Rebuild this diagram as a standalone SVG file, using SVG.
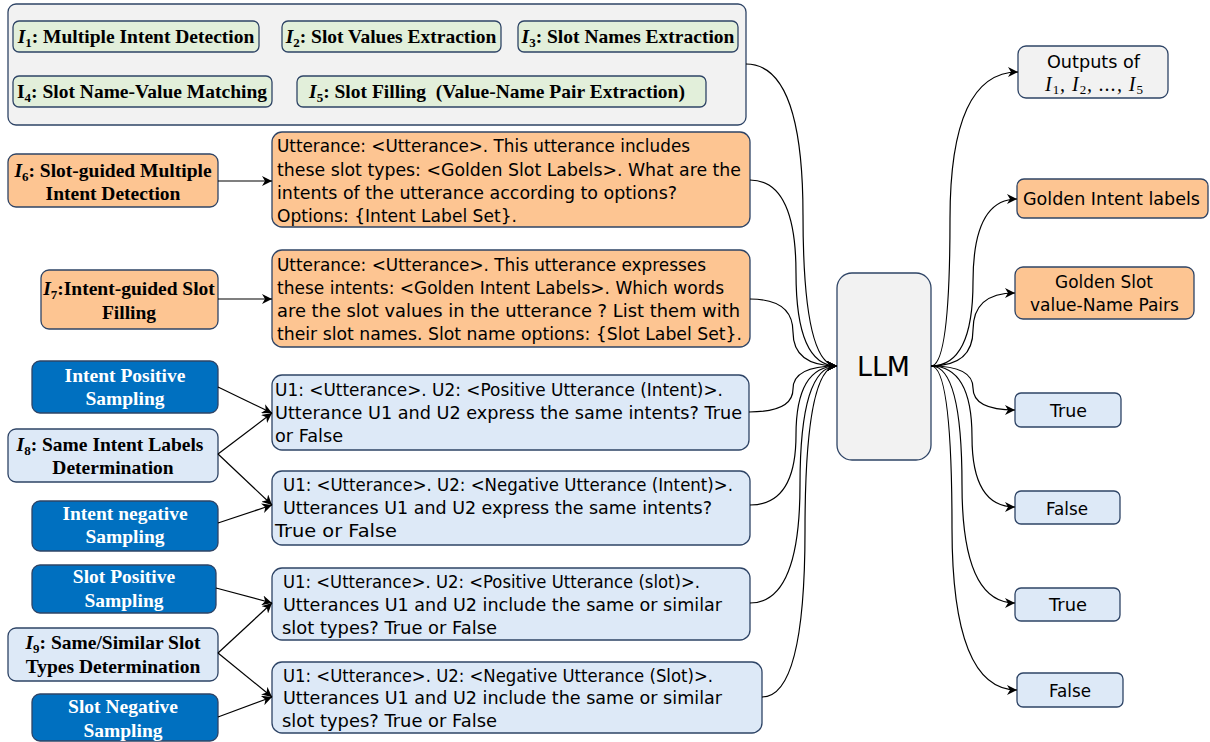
<svg xmlns="http://www.w3.org/2000/svg" width="1210" height="742" viewBox="0 0 1210 742">
<style>
.box{stroke:#2e4466;stroke-width:1.3}
.gray{fill:#f2f2f2}
.green{fill:#e2efda}
.orange{fill:#fdc592}
.lblue{fill:#dde9f7}
.dblue{fill:#0070c0}
.serif{font-family:"Liberation Serif","Times New Roman",serif;font-weight:bold;font-size:19.5px;fill:#000}
.wt{fill:#fff}
.sub{font-size:13px}
.it{font-style:italic}
.pr{font-family:"DejaVu Sans",Verdana,sans-serif;font-size:17px;fill:#000}
.llm{font-family:"DejaVu Sans",Verdana,sans-serif;font-size:27px;fill:#000}
.math{font-family:"Liberation Serif","Times New Roman",serif;font-style:italic;font-size:20px;fill:#000}
.edge{fill:none;stroke:#000;stroke-width:1.2}
</style>
<defs>
<marker id="arr" viewBox="0 0 10 10" refX="10" refY="5" markerWidth="10" markerHeight="10" markerUnits="userSpaceOnUse" orient="auto">
<path d="M0,0 L10,5 L0,10 L3,5 Z" fill="#000"/>
</marker>
</defs>

<g id="task-group">
<rect class="box gray" x="8" y="4" width="738" height="121" rx="8"/>
</g>
<g id="i1">
<rect class="box green" x="13" y="21" width="246" height="31" rx="6"/>
<text class="serif" x="136" y="42.5" text-anchor="middle"><tspan class="it">I</tspan><tspan class="sub" dy="4">1</tspan><tspan dy="-4">: Multiple Intent Detection</tspan></text>
</g>
<g id="i2">
<rect class="box green" x="282" y="21" width="219" height="31" rx="6"/>
<text class="serif" x="391" y="42.5" text-anchor="middle"><tspan class="it">I</tspan><tspan class="sub" dy="4">2</tspan><tspan dy="-4">: Slot Values Extraction</tspan></text>
</g>
<g id="i3">
<rect class="box green" x="518" y="21" width="220" height="31" rx="6"/>
<text class="serif" x="628" y="42.5" text-anchor="middle"><tspan class="it">I</tspan><tspan class="sub" dy="4">3</tspan><tspan dy="-4">: Slot Names Extraction</tspan></text>
</g>
<g id="i4">
<rect class="box green" x="13" y="76" width="259" height="31" rx="6"/>
<text class="serif" x="142" y="97.5" text-anchor="middle"><tspan>I</tspan><tspan class="sub" dy="4">4</tspan><tspan dy="-4">: Slot Name-Value Matching</tspan></text>
</g>
<g id="i5">
<rect class="box green" x="297" y="76" width="409" height="31" rx="6"/>
<text class="serif" x="497" y="97.5" text-anchor="middle" xml:space="preserve"><tspan class="it">I</tspan><tspan class="sub" dy="4">5</tspan><tspan dy="-4">: Slot Filling  (Value-Name Pair Extraction)</tspan></text>
</g>

<g id="i6-label">
<rect class="box orange" x="8" y="154" width="210" height="53" rx="8"/>
<text class="serif" x="113" y="176.5" text-anchor="middle"><tspan class="it">I</tspan><tspan class="sub" dy="4">6</tspan><tspan dy="-4">: Slot-guided Multiple</tspan></text>
<text class="serif" x="113" y="199.5" text-anchor="middle">Intent Detection</text>
</g>
<g id="i6-prompt">
<rect class="box orange" x="272" y="132" width="478" height="95" rx="10"/>
<text class="pr" x="277" y="152" textLength="413" lengthAdjust="spacingAndGlyphs">Utterance: &lt;Utterance&gt;. This utterance includes</text>
<text class="pr" x="277" y="175.5" textLength="464" lengthAdjust="spacingAndGlyphs">these slot types: &lt;Golden Slot Labels&gt;. What are the</text>
<text class="pr" x="277" y="199" textLength="400" lengthAdjust="spacingAndGlyphs">intents of the utterance according to options?</text>
<text class="pr" x="277" y="222" textLength="240" lengthAdjust="spacingAndGlyphs">Options: {Intent Label Set}.</text>
</g>

<g id="i7-label">
<rect class="box orange" x="41" y="270" width="177" height="59" rx="8"/>
<text class="serif" x="129" y="295" text-anchor="middle"><tspan class="it">I</tspan><tspan class="sub" dy="4">7</tspan><tspan dy="-4">:Intent-guided Slot</tspan></text>
<text class="serif" x="129" y="319" text-anchor="middle">Filling</text>
</g>
<g id="i7-prompt">
<rect class="box orange" x="272" y="250" width="478" height="97" rx="10"/>
<text class="pr" x="277" y="270.5" textLength="429" lengthAdjust="spacingAndGlyphs">Utterance: &lt;Utterance&gt;. This utterance expresses</text>
<text class="pr" x="277" y="294" textLength="447" lengthAdjust="spacingAndGlyphs">these intents: &lt;Golden Intent Labels&gt;. Which words</text>
<text class="pr" x="277" y="316.5" textLength="463" lengthAdjust="spacingAndGlyphs">are the slot values in the utterance ? List them with</text>
<text class="pr" x="277" y="339.5" textLength="465" lengthAdjust="spacingAndGlyphs">their slot names. Slot name options: {Slot Label Set}.</text>
</g>

<g id="intent-pos-sampling">
<rect class="box dblue" x="32" y="361" width="186" height="52" rx="8"/>
<text class="serif wt" x="125" y="382" text-anchor="middle">Intent Positive</text>
<text class="serif wt" x="125" y="405" text-anchor="middle">Sampling</text>
</g>
<g id="i8-label">
<rect class="box lblue" x="8" y="429" width="210" height="53" rx="8"/>
<text class="serif" x="110" y="451" text-anchor="middle"><tspan class="it">I</tspan><tspan class="sub" dy="4">8</tspan><tspan dy="-4">: Same Intent Labels</tspan></text>
<text class="serif" x="113" y="474" text-anchor="middle">Determination</text>
</g>
<g id="intent-neg-sampling">
<rect class="box dblue" x="32" y="501" width="186" height="50" rx="8"/>
<text class="serif wt" x="125" y="520" text-anchor="middle">Intent negative</text>
<text class="serif wt" x="125" y="543" text-anchor="middle">Sampling</text>
</g>
<g id="intent-pos-prompt">
<rect class="box lblue" x="272" y="375" width="477" height="75" rx="10"/>
<text class="pr" x="275" y="395.5" textLength="448" lengthAdjust="spacingAndGlyphs">U1: &lt;Utterance&gt;. U2: &lt;Positive Utterance (Intent)&gt;.</text>
<text class="pr" x="275" y="418.5" textLength="467" lengthAdjust="spacingAndGlyphs">Utterance U1 and U2 express the same intents? True</text>
<text class="pr" x="275" y="441.5" textLength="68" lengthAdjust="spacingAndGlyphs">or False</text>
</g>
<g id="intent-neg-prompt">
<rect class="box lblue" x="272" y="471" width="478" height="74" rx="10"/>
<text class="pr" x="283" y="490.5" textLength="450" lengthAdjust="spacingAndGlyphs">U1: &lt;Utterance&gt;. U2: &lt;Negative Utterance (Intent)&gt;.</text>
<text class="pr" x="283" y="514" textLength="429" lengthAdjust="spacingAndGlyphs">Utterances U1 and U2 express the same intents?</text>
<text class="pr" x="275" y="537" textLength="122" lengthAdjust="spacingAndGlyphs">True or False</text>
</g>

<g id="slot-pos-sampling">
<rect class="box dblue" x="32" y="565" width="184" height="48" rx="8"/>
<text class="serif wt" x="124" y="583" text-anchor="middle">Slot Positive</text>
<text class="serif wt" x="124" y="607" text-anchor="middle">Sampling</text>
</g>
<g id="i9-label">
<rect class="box lblue" x="8" y="628" width="210" height="53" rx="8"/>
<text class="serif" x="113" y="649" text-anchor="middle"><tspan class="it">I</tspan><tspan class="sub" dy="4">9</tspan><tspan dy="-4">: Same/Similar Slot</tspan></text>
<text class="serif" x="113" y="673" text-anchor="middle">Types Determination</text>
</g>
<g id="slot-neg-sampling">
<rect class="box dblue" x="32" y="694" width="186" height="47" rx="8"/>
<text class="serif wt" x="123" y="713" text-anchor="middle">Slot Negative</text>
<text class="serif wt" x="123" y="737" text-anchor="middle">Sampling</text>
</g>
<g id="slot-pos-prompt">
<rect class="box lblue" x="272" y="568" width="478" height="72" rx="10"/>
<text class="pr" x="283" y="588" textLength="417" lengthAdjust="spacingAndGlyphs">U1: &lt;Utterance&gt;. U2: &lt;Positive Utterance (slot)&gt;.</text>
<text class="pr" x="283" y="610.5" textLength="439" lengthAdjust="spacingAndGlyphs">Utterances U1 and U2 include the same or similar</text>
<text class="pr" x="282" y="634" textLength="215" lengthAdjust="spacingAndGlyphs">slot types? True or False</text>
</g>
<g id="slot-neg-prompt">
<rect class="box lblue" x="272" y="662" width="490" height="71" rx="10"/>
<text class="pr" x="283" y="681.5" textLength="430" lengthAdjust="spacingAndGlyphs">U1: &lt;Utterance&gt;. U2: &lt;Negative Utterance (Slot)&gt;.</text>
<text class="pr" x="283" y="704" textLength="439" lengthAdjust="spacingAndGlyphs">Utterances U1 and U2 include the same or similar</text>
<text class="pr" x="282" y="726.5" textLength="215" lengthAdjust="spacingAndGlyphs">slot types? True or False</text>
</g>

<g id="llm">
<rect class="box gray" x="837" y="273" width="94" height="187" rx="15"/>
<text class="llm" x="857" y="376" textLength="53" lengthAdjust="spacingAndGlyphs">LLM</text>
</g>

<g id="out-i1-i5">
<rect class="box gray" x="1018" y="46" width="150" height="52" rx="8"/>
<text class="pr" x="1047" y="67.5" textLength="93" lengthAdjust="spacingAndGlyphs">Outputs of</text>
<text class="math" x="1045" y="91" textLength="98" lengthAdjust="spacing"><tspan>I</tspan><tspan class="sub" dy="3" font-style="normal">1</tspan><tspan dy="-3">, I</tspan><tspan class="sub" dy="3" font-style="normal">2</tspan><tspan dy="-3">, ..., I</tspan><tspan class="sub" dy="3" font-style="normal">5</tspan></text>
</g>
<g id="out-golden-intent">
<rect class="box orange" x="1017" y="179" width="191" height="39" rx="7"/>
<text class="pr" x="1023" y="204.5" textLength="177" lengthAdjust="spacingAndGlyphs">Golden Intent labels</text>
</g>
<g id="out-golden-slot">
<rect class="box orange" x="1015" y="267" width="179" height="52" rx="8"/>
<text class="pr" x="1055" y="287.5" textLength="98" lengthAdjust="spacingAndGlyphs">Golden Slot</text>
<text class="pr" x="1030" y="310.5" textLength="149" lengthAdjust="spacingAndGlyphs">value-Name Pairs</text>
</g>
<g id="out-true-1">
<rect class="box lblue" x="1015" y="393" width="106" height="34" rx="6"/>
<text class="pr" x="1050" y="416.5" textLength="37" lengthAdjust="spacingAndGlyphs">True</text>
</g>
<g id="out-false-1">
<rect class="box lblue" x="1015" y="491" width="105" height="33" rx="6"/>
<text class="pr" x="1046" y="514.5" textLength="42" lengthAdjust="spacingAndGlyphs">False</text>
</g>
<g id="out-true-2">
<rect class="box lblue" x="1015" y="588" width="105" height="33" rx="6"/>
<text class="pr" x="1049" y="610.5" textLength="38" lengthAdjust="spacingAndGlyphs">True</text>
</g>
<g id="out-false-2">
<rect class="box lblue" x="1017" y="673" width="106" height="34" rx="6"/>
<text class="pr" x="1049" y="696.5" textLength="42" lengthAdjust="spacingAndGlyphs">False</text>
</g>

<g id="connectors">
<path class="edge" marker-end="url(#arr)" d="M218,181 L272,181"/>
<path class="edge" marker-end="url(#arr)" d="M218,299 L272,299"/>
<path class="edge" marker-end="url(#arr)" d="M218,387 L272,413"/>
<path class="edge" marker-end="url(#arr)" d="M218,454 L272,413"/>
<path class="edge" marker-end="url(#arr)" d="M218,454 L272,505"/>
<path class="edge" marker-end="url(#arr)" d="M218,523 L272,505"/>
<path class="edge" marker-end="url(#arr)" d="M216,588 L272,603"/>
<path class="edge" marker-end="url(#arr)" d="M218,653 L272,603"/>
<path class="edge" marker-end="url(#arr)" d="M218,653 L272,697"/>
<path class="edge" marker-end="url(#arr)" d="M218,717 L272,697"/>

<path class="edge" marker-end="url(#arr)" d="M746,64 Q803,64 803,215 Q803,366 837,366"/>
<path class="edge" marker-end="url(#arr)" d="M750,180 Q796,180 796,273 Q796,366 837,366"/>
<path class="edge" marker-end="url(#arr)" d="M750,299 Q793,299 793,332 Q793,366 837,366"/>
<path class="edge" marker-end="url(#arr)" d="M749,412 Q793,412 793,389 Q793,366 837,366"/>
<path class="edge" marker-end="url(#arr)" d="M750,505 Q796,505 796,435 Q796,366 837,366"/>
<path class="edge" marker-end="url(#arr)" d="M750,603 Q800,603 800,485 Q800,366 837,366"/>
<path class="edge" marker-end="url(#arr)" d="M762,697 Q805,697 805,531 Q805,366 837,366"/>

<path class="edge" marker-end="url(#arr)" d="M931,366 Q950,366 950,219 Q950,72 1018,72"/>
<path class="edge" marker-end="url(#arr)" d="M931,366 Q973,366 973,282 Q973,199 1017,199"/>
<path class="edge" marker-end="url(#arr)" d="M931,366 Q973,366 973,330 Q973,293 1015,293"/>
<path class="edge" marker-end="url(#arr)" d="M931,366 Q973,366 973,388 Q973,410 1015,410"/>
<path class="edge" marker-end="url(#arr)" d="M931,366 Q972,366 972,437 Q972,507 1015,507"/>
<path class="edge" marker-end="url(#arr)" d="M931,366 Q962,366 962,485 Q962,603 1015,603"/>
<path class="edge" marker-end="url(#arr)" d="M931,366 Q952,366 952,528 Q952,690 1017,690"/>
</g>
</svg>
